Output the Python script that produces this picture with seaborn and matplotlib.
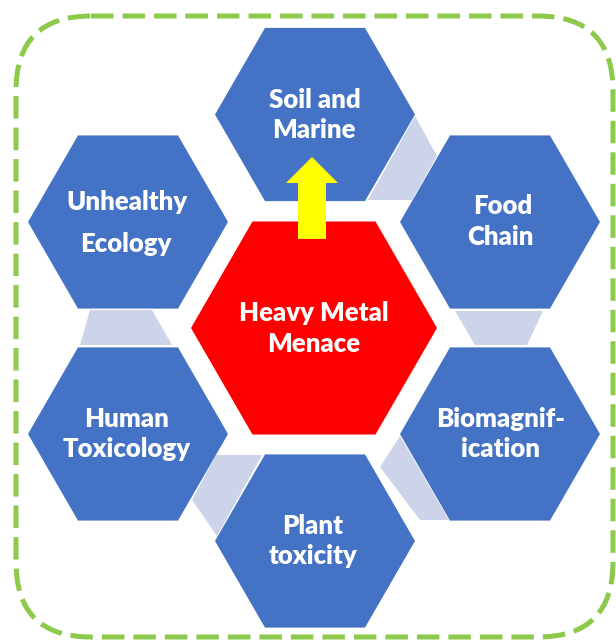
import numpy as np
import matplotlib
matplotlib.use("Agg")
import matplotlib.pyplot as plt
import seaborn as sns
from matplotlib.patches import Polygon, FancyBboxPatch, FancyArrow

# outer hexagons: label lines, centres (pixel space, y down)
outer_lines = [
    ["Soil and", "Marine"],
    ["Food", "Chain"],
    ["Biomagnif-", "ication"],
    ["Plant", "toxicity"],
    ["Human", "Toxicology"],
    ["Unhealthy", "Ecology"],
]
outer_cx = [315, 500, 500, 315, 128, 128]
outer_cy = [114.5, 222, 434, 541, 434, 222]
outer_text_x = [[315, 314], [503, 500], [501, 500], [313, 313], [127, 127], [127, 126]]
outer_baseline = [[107.5, 138.5], [214.5, 245], [427, 457], [533.5, 564], [427, 457], [209.5, 252.5]]

center_lines = ["Heavy Metal", "Menace"]
center_xy = (314, 328)
center_baseline = [321, 351.5]

# light connectors between neighbouring hexagons
connectors = [
    [(415, 116), (437, 156), (412, 200), (368, 200)],
    [(455, 311), (543, 311), (527, 345), (475, 345)],
    [(400, 436), (449, 520), (420, 520), (380, 467)],
    [(216, 455), (262, 455), (217, 536), (192, 500)],
    [(90, 310), (152, 310), (172, 345), (80, 345)],
]

blue = "#4472C4"
red = "#FF0000"
grey = "#CDD3E9"
yellow = "#FFFF00"
green = "#8DC94B"

sns.set_theme(style="white")
plt.rcParams["font.family"] = ["Lato", "DejaVu Sans"]


def hexagon(cx, cy, r):
    ang = np.radians(np.arange(0, 360, 60))
    return np.column_stack([cx + r * np.cos(ang), cy + r * np.sin(ang)])


fig = plt.figure(figsize=(6.16, 6.41), dpi=100)
ax = fig.add_axes([0, 0, 1, 1])
ax.set_xlim(0, 616)
ax.set_ylim(641, 0)
ax.axis("off")

for pts in connectors:
    ax.add_patch(Polygon(pts, closed=True, facecolor=grey, edgecolor="none", zorder=1))

for cx, cy in zip(outer_cx, outer_cy):
    ax.add_patch(Polygon(hexagon(cx, cy, 100), closed=True, facecolor=blue,
                         edgecolor="none", zorder=2))

ax.add_patch(Polygon(hexagon(*center_xy, 123), closed=True, facecolor=red,
                     edgecolor="none", zorder=2))

ax.add_patch(FancyArrow(312, 239, 0, -82, width=28, head_width=52, head_length=26,
                        length_includes_head=True, facecolor=yellow,
                        edgecolor="none", zorder=3))

fs = 18.5
for lines, xs, ys in zip(outer_lines, outer_text_x, outer_baseline):
    for txt, x, y in zip(lines, xs, ys):
        ax.text(x, y, txt, color="white", fontsize=fs, fontweight="heavy",
                ha="center", va="baseline", zorder=4)

for txt, y in zip(center_lines, center_baseline):
    ax.text(center_xy[0], y, txt, color="white", fontsize=fs, fontweight="heavy",
            ha="center", va="baseline", zorder=4)

border = FancyBboxPatch((16, 16), 597, 621, boxstyle="round,pad=0,rounding_size=75",
                        facecolor="none", edgecolor=green, linewidth=3.6,
                        linestyle=(0, (4.5, 1.8)), zorder=5)
ax.add_patch(border)

fig.savefig("out.png", dpi=100, facecolor="white")
